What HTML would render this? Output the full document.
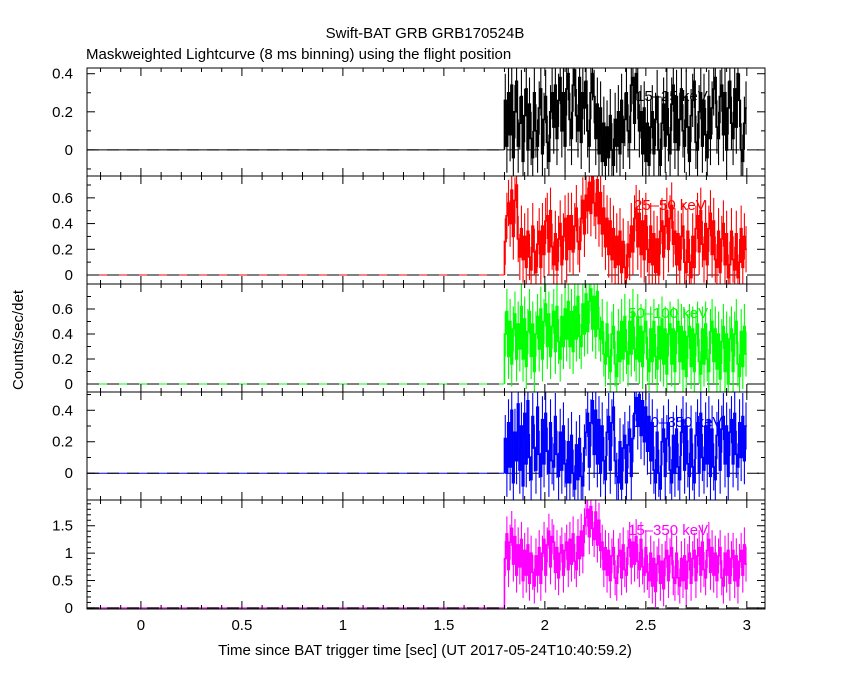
<!DOCTYPE html>
<html><head><meta charset="utf-8"><style>
body{margin:0;background:#fff;width:850px;height:680px;overflow:hidden}
svg text{font-family:"Liberation Sans",sans-serif;font-size:15px}
</style></head><body>
<svg id="chart" width="850" height="680" xmlns="http://www.w3.org/2000/svg">
<text x="425" y="38" text-anchor="middle">Swift-BAT GRB GRB170524B</text>
<text x="86" y="59">Maskweighted Lightcurve (8 ms binning) using the flight position</text>
<text x="0" y="0" transform="translate(23,340) rotate(-90)" text-anchor="middle">Counts/sec/det</text>
<text x="425" y="655" text-anchor="middle">Time since BAT trigger time [sec] (UT 2017-05-24T10:40:59.2)</text>
</svg>
<script>
const xTicks=[0,0.5,1,1.5,2,2.5,3];
const xTickLabels=["0","0.5","1","1.5","2","2.5","3"];
const binStart=1.8, binWidth=0.008;
const bandLabels=["15\u201325 keV","25\u201350 keV","50\u2013100 keV","100\u2013350 keV","15\u2013350 keV"];
const bandColors=["#000","#f00","#0f0","#00f","#f0f"];
const yTicksP1=[0,0.2,0.4], yTicksP2=[0,0.2,0.4,0.6], yTicksP3=[0,0.2,0.4,0.6], yTicksP4=[0,0.2,0.4], yTicksP5=[0,0.5,1,1.5];
const errors=[0.14,0.18,0.18,0.15,0.32];
const rate15_25=[0.26,0.02,0.30,0.08,0.34,-0.04,0.20,0.36,0.02,0.14,
0.28,-0.06,0.18,0.32,0.00,0.24,0.06,-0.04,0.30,0.10,
0.02,0.22,0.32,-0.02,0.16,0.28,0.04,-0.06,0.20,0.30,
0.12,0.34,0.06,0.26,0.38,0.10,0.30,0.02,0.32,0.40,
0.16,0.06,0.34,0.42,0.18,0.10,0.38,0.04,0.30,0.22,
0.36,0.10,0.02,0.30,0.40,0.28,0.06,0.24,-0.02,0.22,
-0.06,0.14,-0.08,0.12,-0.04,0.18,0.00,-0.08,0.16,0.02,
0.20,-0.02,0.26,0.04,0.16,0.30,0.10,0.04,0.34,0.38,
0.14,0.40,0.30,0.10,0.20,-0.02,0.22,-0.06,0.14,-0.08,
0.12,0.20,-0.02,0.16,0.28,0.00,-0.08,0.14,0.24,0.02,
0.30,0.08,-0.02,0.24,0.34,0.04,0.28,0.00,0.16,0.32,
0.10,0.02,0.28,0.12,-0.06,0.18,0.26,0.36,0.04,0.00,
0.20,0.30,0.02,0.26,0.08,-0.04,0.28,0.06,0.22,0.32,
0.38,0.12,0.06,0.28,0.34,0.08,0.30,0.00,0.22,0.36,
0.14,0.06,0.32,0.12,0.40,0.26,0.00,-0.06,0.14,0.22];
const rate25_50=[0.26,0.46,0.56,0.40,0.66,0.30,0.58,0.70,0.28,0.14,
0.36,0.12,0.30,0.06,0.34,0.14,0.04,0.38,0.18,0.02,
0.24,0.34,0.06,0.38,0.16,0.42,0.46,0.18,0.50,0.22,
0.08,0.32,0.04,0.28,0.40,0.08,0.30,0.44,0.12,0.46,
0.20,0.46,0.18,0.38,0.52,0.26,0.20,0.44,0.58,0.32,
0.62,0.50,0.72,0.48,0.76,0.56,0.46,0.74,0.40,0.64,
0.32,0.52,0.22,0.44,0.16,0.42,0.12,0.36,0.06,0.30,
0.08,0.34,0.02,0.26,0.06,-0.02,0.24,0.14,0.38,0.18,
0.44,0.52,0.22,0.48,0.16,0.42,0.12,0.46,0.20,0.10,
0.38,0.08,0.32,0.02,0.28,0.00,0.34,0.42,0.14,0.38,
0.50,0.20,0.44,0.54,0.24,0.34,0.08,0.32,0.04,0.30,
0.38,0.10,0.02,0.34,0.10,-0.02,0.30,0.06,0.36,0.46,
0.18,0.50,0.24,0.12,0.40,0.08,0.36,0.48,0.16,0.42,
0.12,0.06,0.34,0.02,0.28,0.40,0.08,0.32,-0.02,0.08,
0.34,0.12,0.04,0.32,-0.02,0.10,0.36,0.06,0.30,0.20];
const rate50_100=[0.40,0.58,0.22,0.50,0.16,0.44,0.56,0.20,0.48,0.28,
0.62,0.20,0.52,0.14,0.42,0.58,0.22,0.48,0.10,0.40,
0.54,0.28,0.60,0.20,0.50,0.64,0.30,0.56,0.22,0.46,
0.58,0.26,0.62,0.34,0.20,0.54,0.30,0.60,0.36,0.66,
0.30,0.58,0.26,0.62,0.36,0.70,0.38,0.30,0.64,0.40,
0.72,0.42,0.66,0.76,0.44,0.70,0.38,0.74,0.44,0.36,
0.50,0.24,0.16,0.48,0.22,0.10,0.40,0.46,0.16,0.06,
0.42,0.18,0.50,0.20,0.54,0.26,0.16,0.50,0.24,0.58,
0.28,0.20,0.54,0.18,0.46,0.14,0.42,0.50,0.20,0.10,
0.44,0.18,0.50,0.22,0.12,0.46,0.20,0.52,0.16,0.44,
0.08,0.40,0.48,0.16,0.44,0.10,0.42,0.50,0.18,0.46,
0.12,0.42,0.06,0.38,0.46,0.14,0.44,0.10,0.40,0.48,
0.18,0.08,0.44,0.16,0.48,0.20,0.10,0.42,0.50,0.18,
0.44,0.12,0.40,0.04,0.34,0.46,0.10,0.40,0.00,0.36,
0.44,0.10,0.40,0.50,0.16,0.06,0.42,0.14,0.46,0.24];
const rate100_350=[0.22,0.00,0.32,0.04,0.40,-0.06,0.26,0.08,0.44,0.02,
0.30,-0.08,0.38,0.06,0.46,0.10,-0.04,0.36,0.16,0.02,
0.42,0.12,-0.02,0.34,0.06,0.38,0.14,0.00,0.32,0.08,
0.04,0.36,0.12,-0.02,0.26,0.02,0.30,0.06,-0.06,0.20,
-0.06,0.24,0.00,-0.10,0.18,-0.04,0.22,-0.02,-0.08,0.16,
0.26,0.38,0.04,0.32,0.46,0.12,0.40,0.06,0.34,0.00,
0.30,0.08,-0.04,0.26,0.36,0.02,0.32,0.42,0.08,-0.02,
-0.06,0.20,-0.10,0.16,0.24,-0.06,0.18,0.28,-0.02,0.22,
0.38,0.48,0.30,0.50,0.24,0.46,0.20,0.42,0.14,0.36,
0.08,0.32,0.02,-0.06,0.26,0.00,-0.10,0.20,0.28,-0.02,
0.22,0.32,0.02,-0.06,0.24,0.00,0.28,0.04,-0.04,0.26,
0.34,0.02,0.30,0.06,-0.02,0.28,0.04,-0.06,0.24,0.32,
0.00,0.38,0.10,0.02,0.30,0.06,0.34,-0.02,0.28,0.04,
-0.04,0.24,0.32,0.02,0.28,0.36,0.06,0.30,-0.02,0.26,
0.34,0.06,0.38,0.12,0.04,0.32,0.10,0.36,0.08,0.30];
const rate15_350=[0.90,1.35,0.70,1.20,1.45,0.80,1.30,0.60,1.15,0.75,
1.25,0.50,1.05,0.60,1.15,0.45,1.00,0.65,0.40,0.95,
0.60,1.10,0.45,1.00,1.25,0.60,1.15,1.40,0.75,1.30,
1.20,0.65,1.10,0.55,1.00,1.15,0.60,1.05,1.20,0.70,
1.25,0.80,1.35,0.85,0.70,1.30,0.90,1.40,0.95,1.50,
1.65,1.80,1.30,1.85,1.45,1.25,1.75,1.15,1.60,1.05,
1.20,0.70,1.10,0.60,1.05,0.50,0.95,1.10,0.55,0.45,
0.95,1.05,0.55,1.15,0.70,0.60,1.10,1.25,0.75,1.20,
0.80,1.30,0.85,0.70,1.25,0.75,0.60,1.10,0.65,0.50,
1.00,0.40,0.90,0.30,0.80,0.95,0.45,0.85,0.35,0.90,
1.05,0.50,0.95,1.10,0.55,0.45,1.00,0.55,0.40,0.90,
0.50,0.95,0.35,0.85,1.00,0.45,0.90,1.05,0.50,0.95,
1.10,0.60,1.20,0.70,0.55,1.05,1.25,0.65,1.10,0.60,
1.00,0.50,0.95,1.10,0.55,0.40,1.00,0.60,1.05,0.45,
0.90,1.05,0.50,0.95,0.40,0.85,1.05,0.60,1.15,0.80];
const series=[rate15_25,rate25_50,rate50_100,rate100_350,rate15_350];
const panels=[{top:68,bot:176,ymin:-0.137,ymax:0.43,ticks:yTicksP1,minor:0.1},
{top:176,bot:284,ymin:-0.07,ymax:0.77,ticks:yTicksP2,minor:0.1},
{top:284,bot:392,ymin:-0.064,ymax:0.8,ticks:yTicksP3,minor:0.1},
{top:392,bot:500,ymin:-0.17,ymax:0.516,ticks:yTicksP4,minor:0.1},
{top:500,bot:609,ymin:-0.02,ymax:1.97,ticks:yTicksP5,minor:0.1}];
const labelPos=[[636,101],[634,210],[628,318],[634,427],[628,535]];
const L=87,R=765,XMIN=-0.267,XMAX=3.09;
const sx=v=>L+(v-XMIN)/(XMAX-XMIN)*(R-L);
const svg=document.getElementById('chart');
const NS="http://www.w3.org/2000/svg";
function mk(tag,attrs,parent){const e=document.createElementNS(NS,tag);for(const k in attrs)e.setAttribute(k,attrs[k]);(parent||svg).appendChild(e);return e;}
panels.forEach((p,pi)=>{
  const sy=v=>p.bot-(v-p.ymin)/(p.ymax-p.ymin)*(p.bot-p.top);
  const g=mk('g',{});
  
  
  const clipId='clip'+pi;
  const cp=mk('clipPath',{id:clipId},g);mk('rect',{x:L,y:p.top,width:R-L,height:p.bot-p.top},cp);
  const col=bandColors[pi];
  const dg=mk('g',{'clip-path':'url(#'+clipId+')'},g);
  mk('line',{x1:L,x2:sx(binStart),y1:sy(0),y2:sy(0),stroke:col,'stroke-width':1},dg);
  mk('line',{x1:L,x2:R,y1:sy(0),y2:sy(0),stroke:'#000','stroke-width':1,'stroke-dasharray':'12,8'},dg);
  const vals=series[pi], err=errors[pi];
  let d='', e='';
  vals.forEach((v,i)=>{
    const x0=sx(binStart+i*binWidth), x1=sx(binStart+(i+1)*binWidth), xc=(x0+x1)/2;
    const prev=i===0?0:vals[i-1];
    d+=(i===0?'M'+x0+','+sy(prev):'')+'L'+x0+','+sy(v)+'L'+x1+','+sy(v);
    e+='M'+xc+','+sy(v-err)+'L'+xc+','+sy(v+err);
  });
  const line=mk('path',{d:d,fill:'none',stroke:col,'stroke-width':1.6},dg);
  
  
  const eb=mk('path',{d:e,fill:'none',stroke:col,'stroke-width':1.1},dg);
  
  
  mk('rect',{x:L,y:p.top,width:R-L,height:p.bot-p.top,fill:'none',stroke:'#000','stroke-width':1},g);
  for(let k=-2;k<=30;k++){const v=k/10;if(v<XMIN||v>XMAX)continue;const x=sx(v);const len=(k%5===0)?8:4;
    mk('line',{x1:x,x2:x,y1:p.bot,y2:p.bot-len,stroke:'#000'},g);mk('line',{x1:x,x2:x,y1:p.top,y2:p.top+len,stroke:'#000'},g);}
  for(let k=Math.ceil(p.ymin/p.minor);k*p.minor<=p.ymax;k++){const v=k*p.minor;const y=sy(v);
    const major=p.ticks.some(t=>Math.abs(t-v)<1e-6);const len=major?8:4;
    mk('line',{x1:L,x2:L+len,y1:y,y2:y,stroke:'#000'},g);mk('line',{x1:R,x2:R-len,y1:y,y2:y,stroke:'#000'},g);}
  p.ticks.forEach(t=>{const tl=mk('text',{x:L-14,y:sy(t)+5,'text-anchor':'end'},g);tl.textContent=String(t);
    
    });
  const lb=mk('text',{x:labelPos[pi][0],y:labelPos[pi][1],fill:col},g);lb.textContent=bandLabels[pi];
  
  
});
xTicks.forEach((t,i)=>{const tl=mk('text',{x:sx(t),y:630,'text-anchor':'middle'});tl.textContent=xTickLabels[i];
  
  });
</script>
</body></html>
